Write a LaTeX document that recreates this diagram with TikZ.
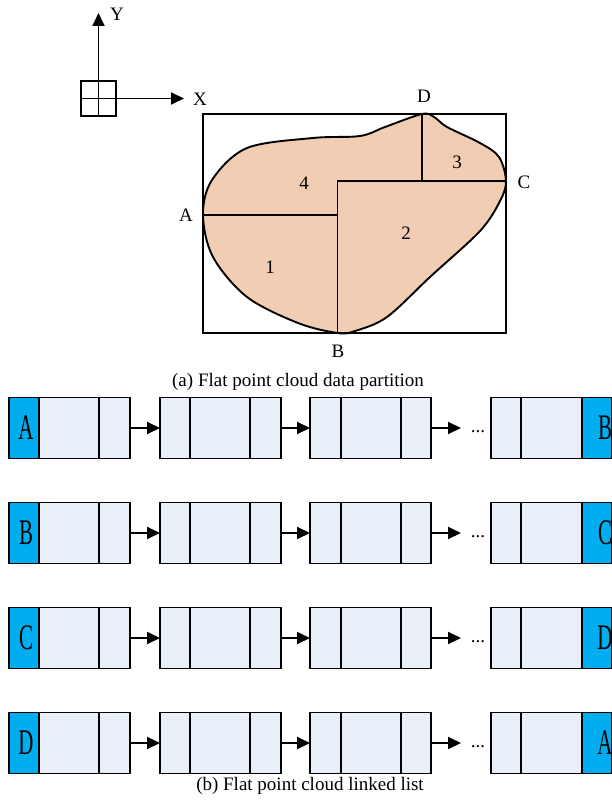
\documentclass[tikz,border=0pt]{standalone}
\usepackage{fontspec}
\setmainfont{Liberation Serif}
\usetikzlibrary{arrows.meta}
\definecolor{peach}{RGB}{240,205,179}
\definecolor{cellfill}{RGB}{233,239,248}
\definecolor{keyblue}{RGB}{0,174,239}
\tikzset{
  ln/.style={line width=1.9pt},
  arr/.style={ln,-{Triangle[length=13pt,width=12pt]}},
  lbl/.style={inner sep=0pt,font=\fontsize{19}{19}\selectfont},
  listnode/.style={draw,ln,fill=cellfill,minimum width=121pt,minimum height=61pt,inner sep=0pt,outer sep=0pt},
}
\newcommand{\keyletter}[1]{\scalebox{0.58}[1]{\fontsize{36}{36}\selectfont #1}}
\begin{document}
\begin{tikzpicture}[x=1pt,y=-1pt]
\useasboundingbox (0,0) rectangle (611,802);
% axes
\node[draw,ln,minimum width=35pt,minimum height=35pt,inner sep=0pt] (sq) at (98.5,98.5) {};
\draw[ln] (sq.north) -- (sq.south);
\draw[ln] (sq.west) -- (sq.east);
\coordinate (ytip) at (98.5,13);
\coordinate (xtip) at (184,98.5);
\draw[arr] (sq.north) -- (ytip);
\draw[arr] (sq.east) -- (xtip);
\node[lbl] (ylab) at (117,14) {Y};
\node[lbl] (xlab) at (200,99) {X};
% partition
\coordinate (A) at (203,215);
\coordinate (B) at (337.5,333);
\coordinate (C) at (506,181);
\coordinate (D) at (422,114);
\coordinate (M) at (337.5,181);
\coordinate (MA) at (337.5,215);
\coordinate (DC) at (422,181);
\draw[ln,fill=peach] plot[smooth cycle,tension=0.55] coordinates {
 (A) (212,180) (247,148) (313,138) (360,136) (385,127) (D) (434,117) (447,127) (480,143) (499,157) (C)
 (500,201) (480,231) (430,277) (387,317) (355,331) (B) (298,323) (247,297) (213,257)};
\draw[ln] (203,114) rectangle (506,333);
\draw[ln] (A) -- (MA);
\draw[ln] (B) -- (M) -- (C);
\draw[ln] (D) -- (DC);
\node[lbl] (la) at (186,215) {A};
\node[lbl] (lb) at (338,351) {B};
\node[lbl] (lc) at (524,182) {C};
\node[lbl] (ld) at (424,96) {D};
\node[lbl] (r1) at (270,267) {1};
\node[lbl] (r2) at (406,233) {2};
\node[lbl] (r3) at (457,162) {3};
\node[lbl] (r4) at (304,183) {4};
\node[lbl] (capa) at (298,382) {(a) Flat point cloud data partition};
% linked lists
\foreach \r/\yy/\first/\last in {1/428/A/B, 2/533/B/C, 3/638/C/D, 4/743/D/A}{
  \node[listnode] (n\r a) at (69.5,\yy) {};
  \node[listnode] (n\r b) at (220.5,\yy) {};
  \node[listnode] (n\r c) at (370.5,\yy) {};
  \node[listnode] (n\r d) at (551.5,\yy) {};
  % first node key cell
  \fill[keyblue] ([xshift=0.95pt,yshift=-0.95pt]n\r a.north west) rectangle ([xshift=30pt,yshift=0.95pt]n\r a.south west);
  \draw[ln] ([xshift=30pt]n\r a.north west) -- ([xshift=30pt]n\r a.south west);
  \draw[ln] ([xshift=90pt]n\r a.north west) -- ([xshift=90pt]n\r a.south west);
  \node[inner sep=0pt] (k\r a) at ([xshift=17pt]n\r a.west) {\keyletter{\first}};
  % middle nodes
  \draw[ln] ([xshift=30pt]n\r b.north west) -- ([xshift=30pt]n\r b.south west);
  \draw[ln] ([xshift=90pt]n\r b.north west) -- ([xshift=90pt]n\r b.south west);
  \draw[ln] ([xshift=31pt]n\r c.north west) -- ([xshift=31pt]n\r c.south west);
  \draw[ln] ([xshift=91pt]n\r c.north west) -- ([xshift=91pt]n\r c.south west);
  % last node key cell
  \fill[keyblue] ([xshift=91pt,yshift=-0.95pt]n\r d.north west) rectangle ([xshift=-0.95pt,yshift=0.95pt]n\r d.south east);
  \draw[ln] ([xshift=30pt]n\r d.north west) -- ([xshift=30pt]n\r d.south west);
  \draw[ln] ([xshift=91pt]n\r d.north west) -- ([xshift=91pt]n\r d.south west);
  \node[inner sep=0pt] (k\r d) at ([xshift=-7pt]n\r d.east) {\keyletter{\last}};
  % arrows
  \draw[arr] (n\r a.east) -- (n\r b.west);
  \draw[arr] (n\r b.east) -- (n\r c.west);
  \coordinate (t\r) at (461,\yy);
  \draw[arr] (n\r c.east) -- (t\r);
  \node[lbl] (dots\r) at (478,\yy+4) {...};
}
\node[lbl] (capb) at (310,786) {(b) Flat point cloud linked list};
\end{tikzpicture}
\end{document}
